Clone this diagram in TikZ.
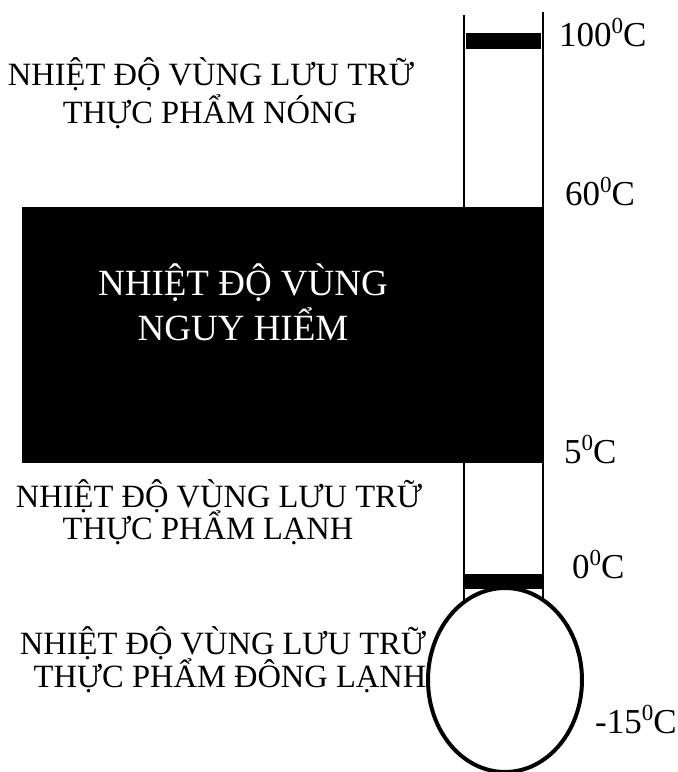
\documentclass[tikz,border=0pt]{standalone}
\usepackage{fontspec}
\usetikzlibrary{shapes.geometric}
\setmainfont{Liberation Serif}
\newcommand{\degz}{\raisebox{0.36em}{\fontsize{23}{23}\selectfont 0}}
\begin{document}
\begin{tikzpicture}[x=1pt,y=-1pt]
\tikzset{
  txt/.style={anchor=base,inner sep=0pt,font=\fontsize{32.5}{39}\selectfont},
  bigtxt/.style={anchor=base,inner sep=0pt,text=white,font=\fontsize{37}{44}\selectfont},
  lbl/.style={anchor=base west,inner sep=0pt,font=\fontsize{35}{40}\selectfont},
  tube/.style={line width=1.8pt},
  bar/.style={fill=black,draw=none}
}
\useasboundingbox (0,0) rectangle (678,772);
% tube lines
\coordinate (lt) at (464,15);
\coordinate (lb) at (464,600);
\coordinate (rt) at (543,12);
\coordinate (rb) at (543,600);
\draw[tube] (lt) -- (lb);
\draw[tube] (rt) -- (rb);
% top bar
\fill[bar] (466,33) rectangle (541,49);
% danger box
\fill[bar] (22,207) rectangle (544,463);
% 0 C bar
\fill[bar] (465,574) rectangle (542,589);
% bulb
\node[draw,line width=4pt,fill=white,ellipse,minimum width=154pt,minimum height=184pt,inner sep=0pt] (bulb) at (505,680) {};
% labels
\node[lbl] (l100) at (559,46) {100\degz C};
\node[lbl] (l60) at (565,205) {60\degz C};
\node[lbl] (l5) at (564,463) {5\degz C};
\node[lbl] (l0) at (572,578) {0\degz C};
\node[lbl] (l15) at (595,733) {-15\degz C};
% texts
\node[txt] (h1) at (211,85) {NHIỆT ĐỘ VÙNG LƯU TRỮ};
\node[txt] (h2) at (210,123) {THỰC PHẨM NÓNG};
\node[bigtxt] (d1) at (243,295) {NHIỆT ĐỘ VÙNG};
\node[bigtxt] (d2) at (243,340) {NGUY HIỂM};
\node[txt] (c1) at (219,507) {NHIỆT ĐỘ VÙNG LƯU TRỮ};
\node[txt] (c2) at (208,539) {THỰC PHẨM LẠNH};
\node[txt] (f1) at (223,654) {NHIỆT ĐỘ VÙNG LƯU TRỮ};
\node[txt] (f2) at (230,687) {THỰC PHẨM ĐÔNG LẠNH};
\end{tikzpicture}
\end{document}
